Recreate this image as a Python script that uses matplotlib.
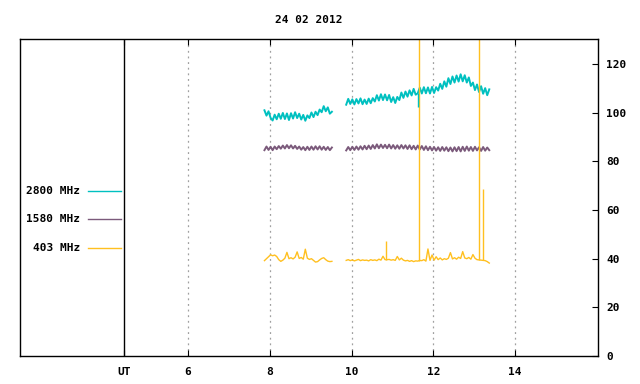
import numpy as np
import matplotlib
matplotlib.use("Agg")
import matplotlib.pyplot as plt
from matplotlib.lines import Line2D

title = "24 02 2012"
freqs = ["2800 MHz", "1580 MHz", "403 MHz"]
colors = ["#00c0c0", "#7b5a7b", "#ffc020"]
widths = [1.4, 1.4, 1.0]

# two observing segments (UT hours)
seg1_t = (7.87, 9.52)
seg2_t = (9.87, 13.37)

# 2800 MHz
f2800_a = [101.0, 98.8, 100.6, 97.9, 96.8, 99.2, 97.3, 99.6, 97.5, 99.9,
           97.4, 99.7, 97.0, 99.8, 97.6, 100.2, 97.8, 99.6, 97.2, 99.1,
           96.7, 98.9, 97.8, 100.1, 98.2, 100.4, 99.0, 101.3, 100.2, 102.7,
           100.6, 102.2, 99.6, 100.4]
f2800_b = [103.3, 105.7, 103.6, 105.5, 103.4, 105.6, 103.8, 105.9, 103.5, 105.4,
           103.6, 105.8, 103.9, 106.0, 104.6, 107.2, 105.0, 107.6, 105.2, 107.5,
           105.1, 107.3, 104.4, 106.4, 104.0, 106.5, 105.2, 108.3, 106.1, 108.7,
           106.6, 109.2, 107.1, 109.8, 107.4, 108.0, 110.3, 107.9, 110.5, 108.0,
           110.4, 107.9, 110.6, 108.1, 110.5, 109.1, 111.9, 109.8, 112.9, 110.7,
           114.2, 111.8, 114.9, 112.4, 115.3, 112.8, 115.8, 112.9, 115.4, 112.4,
           114.5, 111.0, 112.4, 109.3, 111.6, 108.5, 110.9, 107.8, 110.1, 107.2,
           109.6]
f2800_dip_t = [11.62]
f2800_dip_v = [102.3]

# 1580 MHz
f1580_a = [84.6, 86.1, 84.7, 86.0, 84.6, 86.1, 85.0, 86.3, 85.2, 86.5,
           85.3, 86.7, 85.4, 86.6, 85.3, 86.4, 85.1, 86.1, 84.8, 85.9,
           84.6, 86.0, 84.7, 86.1, 84.8, 86.2, 84.9, 86.2, 84.8, 86.0,
           84.7, 85.9, 84.6, 85.7]
f1580_b = [84.5, 85.9, 84.6, 86.0, 84.7, 86.1, 84.8, 86.2, 84.9, 86.4,
           85.0, 86.5, 85.1, 86.7, 85.3, 87.0, 85.4, 86.9, 85.5, 86.8,
           85.4, 86.9, 85.3, 86.7, 85.2, 86.6, 85.2, 86.7, 85.3, 86.6,
           85.1, 86.6, 85.0, 86.4, 84.9, 86.5, 84.9, 86.3, 84.7, 86.2,
           84.6, 86.0, 84.5, 85.9, 84.4, 85.8, 84.3, 85.9, 84.4, 85.8,
           84.2, 85.7, 84.1, 85.8, 84.2, 85.9, 84.1, 86.0, 84.3, 86.1,
           84.4, 85.9, 84.3, 86.0, 84.5, 85.8, 84.3, 85.9, 84.4, 85.7,
           84.6]

# 403 MHz
f403_a = [39.2, 40.0, 40.8, 41.6, 41.2, 41.5, 40.9, 39.6, 38.9, 39.4,
          40.2, 42.6, 40.0, 40.4, 39.9, 40.6, 42.8, 40.1, 40.5, 39.8,
          43.9, 40.2, 39.7, 40.0, 39.3, 38.6, 38.8, 39.5, 40.1, 40.4,
          39.6, 39.0, 38.8, 38.9]
f403_b = [39.3, 39.6, 39.2, 39.5, 39.1, 39.4, 39.7, 39.2, 39.5, 39.3,
          39.4, 39.1, 39.6, 39.3, 39.5, 39.2, 39.8, 39.4, 41.0, 39.6,
          39.6, 39.7, 39.4, 39.6, 39.3, 40.9, 39.5, 40.2, 39.4, 39.1,
          39.3, 38.9, 39.2, 38.8, 39.1, 39.0, 39.3, 39.2, 39.6, 39.0,
          44.0, 39.3, 41.5, 39.4, 40.8, 39.6, 40.3, 39.5, 40.0, 39.7,
          40.2, 42.5, 39.9, 40.4, 39.8, 40.6, 40.1, 42.9, 40.3, 40.0,
          40.5, 39.8, 41.7, 40.2, 39.6, 39.5, 39.4, 39.3, 39.2, 38.8,
          38.2]
f403_spike_t = [10.85, 11.65, 13.11, 13.22]
f403_spike_v = [47.3, 140.0, 140.0, 68.6]

xticks = [4.434, 6, 8, 10, 12, 14]
xlabels = ["UT", "6", "8", "10", "12", "14"]
yticks = [0, 20, 40, 60, 80, 100, 120]

font = {"family": "DejaVu Sans Mono", "weight": "bold", "size": 8}

fig = plt.figure(figsize=(6.4, 3.84), dpi=100)
ax = fig.add_axes([20 / 640, 1 - 356 / 384, 578 / 640, 317 / 384])

series = [(f2800_a, f2800_b), (f1580_a, f1580_b), (f403_a, f403_b)]
for (a, b), c, w in zip(series, colors, widths):
    ta = np.linspace(seg1_t[0], seg1_t[1], len(a))
    tb = np.linspace(seg2_t[0], seg2_t[1], len(b))
    ax.plot(ta, a, color=c, lw=w)
    ax.plot(tb, b, color=c, lw=w)

# single-sample spikes
tb = np.linspace(seg2_t[0], seg2_t[1], len(f403_b))
ax.vlines(f403_spike_t, np.interp(f403_spike_t, tb, f403_b), f403_spike_v,
          color=colors[2], lw=1.0)
tb = np.linspace(seg2_t[0], seg2_t[1], len(f2800_b))
ax.vlines(f2800_dip_t, f2800_dip_v, np.interp(f2800_dip_t, tb, f2800_b),
          color=colors[0], lw=1.0)

for x in xticks[1:]:
    ax.axvline(x, color="#a0a0a0", lw=0.9, ls=(0, (1.5, 3)), zorder=0)
ax.axvline(xticks[0], color="black", lw=1.0)

ax.set_xlim(1.89, 16.03)
ax.set_ylim(0, 130.3)
ax.set_xticks(xticks)
ax.set_xticklabels(xlabels, fontdict=font)
ax.set_yticks(yticks)
ax.set_yticklabels([str(v) for v in yticks], fontdict=font)
ax.yaxis.tick_right()
ax.tick_params(axis="x", direction="in", length=4, width=0.8, top=True, pad=8)
ax.tick_params(axis="y", direction="in", length=4, width=0.8, pad=6)
for s in ax.spines.values():
    s.set_linewidth(1.0)

ax.set_title(title, fontdict=font, pad=11.8)

# legend in the left panel
ly = [0.5205, 0.432, 0.3407]
for name, c, y in zip(freqs, colors, ly):
    ax.text(0.1038, y, name, transform=ax.transAxes, ha="right", va="center", fontdict=font)
    ax.add_line(Line2D([0.1176, 0.1747], [y, y], transform=ax.transAxes, color=c, lw=1.0))

fig.savefig("out.png", dpi=100, facecolor="white")
